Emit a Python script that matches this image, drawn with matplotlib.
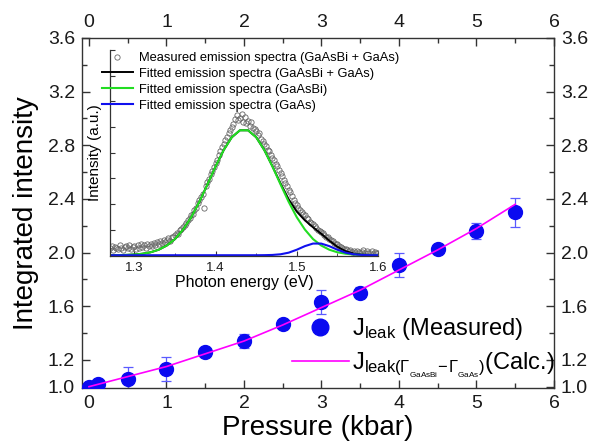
#!/usr/bin/env python3
"""Integrated intensity vs pressure, with inset emission spectrum."""
import numpy as np
import matplotlib
matplotlib.use("Agg")
import matplotlib.pyplot as plt
from matplotlib.lines import Line2D

plt.rcParams["font.family"] = ["Liberation Sans", "DejaVu Sans"]
plt.rcParams["mathtext.fontset"] = "custom"
plt.rcParams["mathtext.rm"] = "Liberation Sans"
plt.rcParams["mathtext.it"] = "Liberation Sans"
plt.rcParams["mathtext.default"] = "regular"

# main panel: measured J_leak vs pressure
pressure = [0.0, 0.12, 0.5, 1.0, 1.5, 2.0, 2.5, 3.0, 3.5, 4.0, 4.5, 5.0, 5.5]
intensity = [1.00, 1.02, 1.06, 1.13, 1.26, 1.34, 1.47, 1.63, 1.70, 1.91, 2.03, 2.16, 2.30]
intensity_err = [0.03, 0.03, 0.09, 0.09, 0.03, 0.05, 0.03, 0.09, 0.04, 0.09, 0.03, 0.06, 0.11]

# calculated curve
calc_p = [0.0, 0.5, 1.0, 1.5, 2.0, 2.5, 3.0, 3.5, 4.0, 4.5, 5.0, 5.5]
calc_j = [1.00, 1.075, 1.15, 1.245, 1.34, 1.46, 1.59, 1.72, 1.87, 2.02, 2.18, 2.36]

# inset: emission spectrum
energy_meas = np.linspace(1.27, 1.60, 166)
spec_meas = [
    0.28, 0.36, 0.22, 0.34, 0.30, 0.25, 0.38, 0.30, 0.21, 0.33,
    0.36, 0.27, 0.40, 0.24, 0.31, 0.35, 0.26, 0.38, 0.30, 0.43,
    0.33, 0.41, 0.28, 0.45, 0.37, 0.44, 0.35, 0.48, 0.39, 0.52,
    0.42, 0.55, 0.47, 0.60, 0.51, 0.58, 0.66, 0.55, 0.72, 0.70,
    0.78, 0.86, 0.82, 0.98, 1.02, 1.10, 1.18, 1.25, 1.38, 1.45,
    1.55, 1.62, 1.78, 1.85, 2.02, 2.15, 2.28, 2.40, 1.85, 2.70,
    2.85, 2.98, 3.15, 3.30, 3.42, 3.60, 3.72, 3.90, 4.05, 4.20,
    4.35, 4.48, 4.62, 4.75, 4.90, 5.00, 5.12, 5.30, 5.45, 5.28,
    5.35, 5.50, 5.20, 5.38, 5.15, 5.25, 5.05, 5.18, 4.95, 4.92,
    4.85, 4.70, 4.78, 4.55, 4.45, 4.35, 4.25, 4.12, 4.05, 3.92,
    3.80, 3.72, 3.55, 3.48, 3.32, 3.20, 3.10, 2.95, 2.80, 2.70,
    2.55, 2.45, 2.30, 2.15, 2.05, 1.95, 1.85, 1.78, 1.68, 1.60,
    1.55, 1.45, 1.40, 1.30, 1.25, 1.20, 1.12, 1.08, 0.98, 0.95,
    0.92, 0.85, 0.78, 0.72, 0.70, 0.65, 0.58, 0.55, 0.48, 0.45,
    0.42, 0.36, 0.33, 0.28, 0.26, 0.25, 0.20, 0.18, 0.22, 0.14,
    0.15, 0.10, 0.18, 0.12, 0.08, 0.12, 0.22, 0.08, 0.15, 0.10,
    0.10, 0.16, 0.06, 0.12, 0.09, 0.10,
]

energy_fit = np.linspace(1.27, 1.60, 34)
fit_gaasbi = [
    0.002, 0.005, 0.013, 0.028, 0.058, 0.115, 0.215, 0.38, 0.63, 1.00,
    1.48, 2.08, 2.76, 3.46, 4.10, 4.60, 4.87, 4.87, 4.60, 4.10,
    3.46, 2.76, 2.08, 1.48, 1.00, 0.63, 0.38, 0.215, 0.115, 0.058,
    0.028, 0.013, 0.005, 0.002,
]
fit_gaas = [
    0, 0, 0, 0, 0, 0, 0, 0, 0, 0,
    0, 0, 0, 0, 0, 0, 0, 0, 0, 0.003,
    0.011, 0.037, 0.10, 0.215, 0.355, 0.455, 0.455, 0.355, 0.215, 0.10,
    0.037, 0.011, 0.003, 0.001,
]
fit_total = [
    0.002, 0.005, 0.013, 0.028, 0.058, 0.115, 0.215, 0.38, 0.63, 1.00,
    1.48, 2.08, 2.76, 3.46, 4.10, 4.60, 4.87, 4.87, 4.60, 4.10,
    3.47, 2.80, 2.18, 1.70, 1.36, 1.09, 0.84, 0.57, 0.33, 0.16,
    0.065, 0.024, 0.008, 0.003,
]

W, H = 590, 446
fig = plt.figure(figsize=(W / 100, H / 100), dpi=100)
ax = fig.add_axes([82 / W, 1 - 388 / H, (554 - 82) / W, (388 - 38) / H])

spine_c = "#333333"
for s in ax.spines.values():
    s.set_color(spine_c)
    s.set_linewidth(1.0)

ax.errorbar(pressure, intensity, yerr=intensity_err, fmt="none",
            ecolor="#5a5aff", elinewidth=0.9, capsize=3.5, capthick=0.9, zorder=2)
ax.plot(pressure, intensity, "o", color="#0a0af0", ms=10, zorder=3)
ax.plot(calc_p, calc_j, "-", color="#ff00ff", lw=1.2, zorder=4)

ax.set_xlim(-0.09, 6)
ax.set_ylim(0.99, 3.6)
ax.set_xticks([0, 1, 2, 3, 4, 5, 6])
ax.set_xticks(np.arange(0.5, 6, 1.0), minor=True)
ax.set_yticks([1.0, 1.2, 1.6, 2.0, 2.4, 2.8, 3.2, 3.6])
ax.set_yticklabels(["1.0", "1.2", "1.6", "2.0", "2.4", "2.8", "3.2", "3.6"])
ax.set_yticks([1.4, 1.8, 2.2, 2.6, 3.0, 3.4], minor=True)
ax.tick_params(which="both", direction="in", top=True, right=True,
               labeltop=True, labelright=True, colors=spine_c,
               labelcolor="#1a1a1a", labelsize=14, pad=5)
ax.tick_params(which="major", length=6, width=1.0)
ax.tick_params(which="minor", length=3.5, width=1.0)
ax.set_xlabel("Pressure (kbar)", fontsize=20, labelpad=2)
ax.set_ylabel("Integrated intensity", fontsize=20, labelpad=6)

handles = [
    Line2D([], [], ls="none", marker="o", color="#0a0af0", ms=12),
    Line2D([], [], ls="-", color="#ff00ff", lw=1.2),
]
labels = [
    r"J$_{\rm leak}$ (Measured)",
    r"J$_{\rm leak(\Gamma_{_{GaAsBi}}\!-\!\Gamma_{_{GaAs}})}$(Calc.)",
]
fig.legend(handles, labels, loc="upper left", bbox_to_anchor=(292 / W, 1 - 316 / H),
           frameon=False, fontsize=17, handlelength=2.4, handletextpad=0.15,
           labelspacing=0.35, borderpad=0, borderaxespad=0)

# inset
ins = fig.add_axes([110 / W, 1 - 256 / H, (378 - 110) / W, (256 - 50) / H])
ins.patch.set_alpha(0)
ins.spines["top"].set_visible(False)
ins.spines["right"].set_visible(False)
for s in ("left", "bottom"):
    ins.spines[s].set_color(spine_c)
    ins.spines[s].set_linewidth(0.9)

ins.plot(energy_meas, spec_meas, "o", mfc="none", mec="#666666", ms=3.8, mew=0.6,
         label="Measured emission spectra (GaAsBi + GaAs)")
ins.plot(energy_fit, fit_total, "-", color="black", lw=1.4,
         label="Fitted emission spectra (GaAsBi + GaAs)")
ins.plot(energy_fit, fit_gaasbi, "-", color="#22dd22", lw=1.5,
         label="Fitted emission spectra (GaAsBi)")
ins.plot(energy_fit, fit_gaas, "-", color="#1010ee", lw=1.5,
         label="Fitted emission spectra (GaAs)")

ins.set_xlim(1.27, 1.6)
ins.set_ylim(-0.03, 8.0)
ins.set_xticks([1.3, 1.4, 1.5, 1.6])
ins.set_xticklabels(["1.3", "1.4", "1.5", "1.6"])
ins.set_xticks([1.35, 1.45, 1.55], minor=True)
ins.set_yticks(np.arange(0, 9, 1))
ins.set_yticklabels([])
ins.tick_params(which="both", direction="in", colors=spine_c,
                labelcolor="#1a1a1a", labelsize=9.5, pad=4)
ins.tick_params(which="major", length=3.5)
ins.tick_params(which="minor", length=2)
ins.set_xlabel("Photon energy (eV)", fontsize=11.5, labelpad=1)
ins.set_ylabel("Intensity (a.u.)", fontsize=11, labelpad=2)
ins.legend(loc="upper left", bbox_to_anchor=(-0.03, 0.99), frameon=False,
           fontsize=9.3, handlelength=2.4, handletextpad=0.5,
           labelspacing=0.3, borderpad=0, borderaxespad=0)

fig.savefig("out.png", dpi=100)
